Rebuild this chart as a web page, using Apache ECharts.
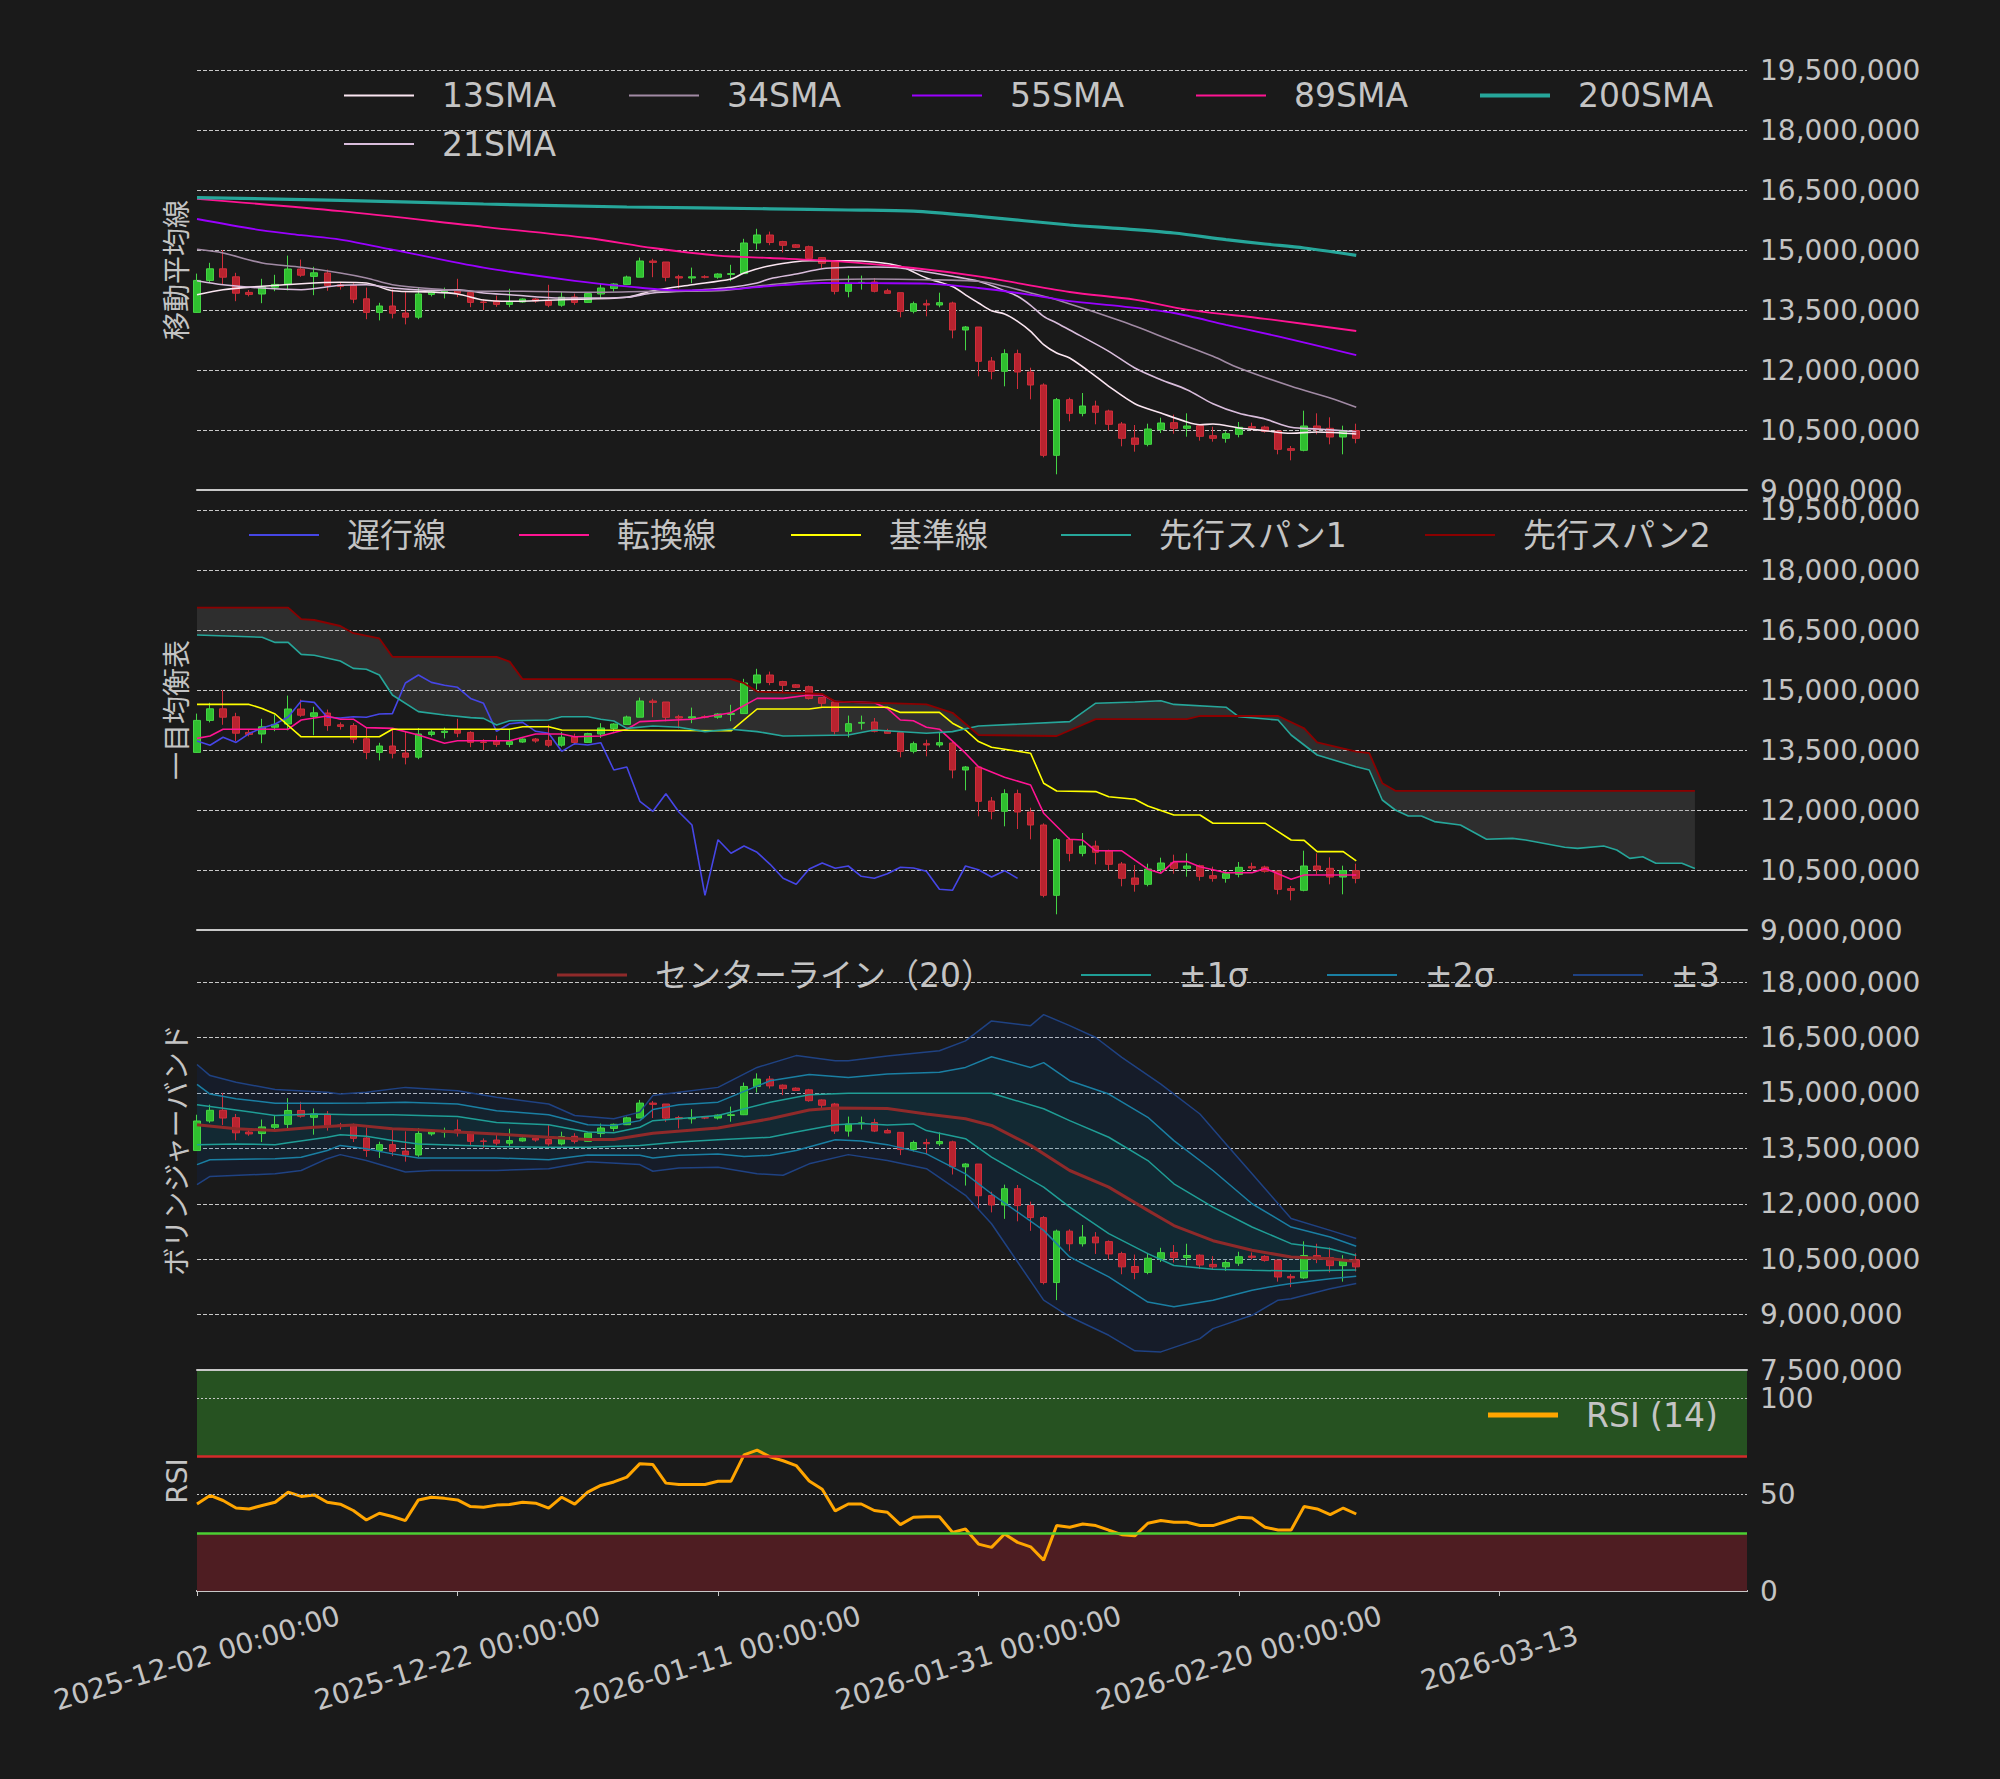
<!DOCTYPE html>
<html><head><meta charset="utf-8">
<script src="https://cdn.jsdelivr.net/npm/echarts@6/dist/echarts.min.js"></script>
<style>html,body{margin:0;padding:0;background:#1a1a1a;} #c{width:2000px;height:1779px;}</style>
</head><body><div id="c"></div>
<script>
// ---------- data (prices in millions of JPY) ----------
const X_CATEGORIES = Array.from({length: 120}, (_, i) => String(i));
const X_TICK_LABELS = ['2025-12-02 00:00:00','2025-12-22 00:00:00','2026-01-11 00:00:00','2026-01-31 00:00:00','2026-02-20 00:00:00','2026-03-13'];

const OPEN = [13.44,14.24,14.53,14.33,13.94,13.90,14.07,14.15,14.525,14.34, 14.425,14.13,14.11,13.78,13.44,13.60,13.425,13.32,13.89,13.94, 14.00,13.94,13.70,13.725,13.64,13.70,13.775,13.74,13.62,13.825, 13.69,13.90,14.04,14.14,14.32,14.725,14.70,14.333,14.30,14.33, 14.32,14.39,14.41,15.175,15.375,15.21,15.13,15.083,14.81,14.70, 13.967,14.17,14.20,13.98,13.933,13.467,13.658,13.625,13.675,13.00, 13.075,12.225,11.967,12.408,11.95,11.625,9.867,11.258,10.917,11.10, 10.975,10.65,10.30,10.142,10.508,10.683,10.542,10.608,10.358,10.292, 10.392,10.583,10.575,10.475,10.033,9.992,10.60,10.542,10.325,10.483];
const CLOSE = [14.24,14.53,14.32,13.92,13.89,14.08,14.14,14.525,14.37,14.43, 14.11,14.09,13.77,13.44,13.60,13.42,13.32,13.90,13.95,13.97, 13.92,13.69,13.69,13.64,13.71,13.775,13.725,13.62,13.82,13.69, 13.91,14.05,14.15,14.325,14.725,14.69,14.317,14.30,14.33,14.32, 14.40,14.41,15.175,15.375,15.19,15.117,15.067,14.79,14.667,13.967, 14.158,14.19,13.967,13.917,13.467,13.658,13.625,13.683,13.00,13.075, 12.217,11.967,12.408,11.95,11.625,9.867,11.258,10.917,11.10,10.942, 10.642,10.292,10.142,10.525,10.675,10.542,10.60,10.342,10.292,10.408, 10.567,10.55,10.467,10.017,9.992,10.60,10.508,10.325,10.483,10.292];
const LOW = [13.43,14.19,14.13,13.72,13.84,13.67,13.97,13.99,14.33,13.87, 13.98,14.01,13.67,13.27,13.24,13.29,13.14,13.27,13.84,13.79, 13.82,13.57,13.50,13.58,13.57,13.68,13.68,13.57,13.58,13.63, 13.68,13.80,13.96,14.13,14.32,14.32,14.217,14.04,14.17,14.29, 14.28,14.22,14.40,15.01,15.12,14.94,15.05,14.76,14.55,13.89, 13.817,14.01,13.94,13.91,13.317,13.417,13.342,13.567,12.792,12.492, 11.842,11.767,11.592,11.525,11.267,9.817,9.392,10.717,10.842,10.642, 10.492,10.092,9.958,10.092,10.425,10.408,10.333,10.233,10.208,10.183, 10.317,10.492,10.433,9.892,9.742,9.967,10.392,10.142,9.892,10.167];
const HIGH = [14.41,14.68,15.00,14.43,14.00,14.28,14.38,14.86,14.76,14.58, 14.51,14.19,14.17,14.06,13.68,14.02,13.96,14.05,14.00,14.06, 14.28,13.97,13.77,13.86,14.03,13.79,13.80,14.13,13.95,13.91, 13.93,14.17,14.17,14.36,14.81,14.78,14.70,14.38,14.56,14.37, 14.42,14.63,15.28,15.53,15.46,15.23,15.15,15.11,14.825,14.73, 14.36,14.36,14.30,14.03,13.933,13.71,13.758,13.933,13.708,13.10, 13.075,12.325,12.517,12.508,12.058,11.667,11.30,11.308,11.425,11.233, 11.008,10.70,10.625,10.658,10.808,10.883,10.917,10.633,10.583,10.467, 10.70,10.683,10.608,10.475,10.10,10.983,10.917,10.817,10.608,10.658];

// moving averages: [day index, value]
const SMA13 = [[0,13.883],[2,14.008],[5,14.092],[8,14.158],[11,14.192],[13,14.175],[15,13.983],[18,13.95],[20,13.9],[22,13.75],[24,13.717],[28,13.758],[33,13.817],[35,13.983],[38,14.133],[41,14.275],[42,14.425],[44,14.608],[47,14.733],[50,14.733],[52,14.7],[54,14.592],[56,14.3],[58,14.09],[59,13.88],[60,13.675],[61,13.483],[62,13.4],[63,13.217],[64,12.967],[65,12.633],[66,12.425],[67,12.3],[69,11.842],[70,11.592],[72,11.158],[74,10.925],[76,10.7],[77,10.633],[78,10.65],[80,10.55],[82,10.483],[84,10.417],[86,10.45],[89,10.4]];
const SMA21 = [[0,14.233],[2,14.133],[5,14.05],[8,14.008],[11,14.117],[13,14.133],[15,14.05],[18,13.992],[20,14.008],[22,13.925],[24,13.883],[28,13.8],[31,13.8],[33,13.817],[35,13.925],[38,13.983],[41,14.067],[43,14.175],[44,14.283],[46,14.4],[48,14.533],[50,14.567],[52,14.575],[54,14.55],[56,14.45],[58,14.342],[60,14.217],[62,13.983],[63,13.842],[64,13.617],[65,13.342],[66,13.175],[67,13.0],[70,12.467],[72,12.05],[74,11.758],[76,11.508],[78,11.158],[80,10.917],[82,10.775],[84,10.567],[86,10.525],[89,10.458]];
const SMA34 = [[0,15.017],[2,14.925],[5,14.675],[8,14.567],[11,14.425],[13,14.3],[15,14.133],[18,14.033],[22,13.967],[25,13.967],[30,13.942],[35,13.967],[40,13.983],[44,14.133],[48,14.25],[52,14.275],[56,14.258],[60,14.217],[62,14.092],[64,13.925],[66,13.758],[71,13.217],[75,12.717],[78,12.342],[80,12.05],[84,11.592],[87,11.3],[89,11.067]];
const SMA55 = [[0,15.775],[5,15.49],[8,15.37],[11,15.26],[15,15.01],[22,14.56],[29,14.23],[33,14.09],[37,13.99],[41,14.02],[44,14.1],[48,14.175],[52,14.17],[56,14.16],[60,14.05],[64,13.88],[67,13.72],[71,13.59],[75,13.425],[79,13.13],[83,12.84],[89,12.37]];
const SMA89 = [[0,16.28],[11,15.97],[22,15.58],[30,15.3],[35,15.05],[40,14.86],[44,14.8],[49,14.72],[55,14.55],[60,14.34],[67,13.95],[72,13.76],[76,13.51],[82,13.28],[89,12.975]];
const SMA200 = [[0,16.31],[11,16.24],[22,16.15],[33,16.075],[44,16.03],[50,16.0],[55,15.97],[60,15.84],[67,15.625],[71,15.533],[75,15.425],[79,15.258],[82,15.15],[85,15.05],[89,14.867]];

// ichimoku
const CHIKOU = [13.725,13.62,13.82,13.69,13.91,14.05,14.15,14.325,14.725,14.69,14.317,14.30,14.33,14.32,14.40,14.41,15.175,15.375,15.19,15.117,15.067,14.79,14.667,13.967,14.158,14.19,13.967,13.917,13.467,13.658,13.625,13.683,13.00,13.075,12.217,11.967,12.408,11.95,11.625,9.867,11.258,10.917,11.10,10.942,10.642,10.292,10.142,10.525,10.675,10.542,10.60,10.342,10.292,10.408,10.567,10.55,10.467,10.017,9.992,10.60,10.508,10.325,10.483,10.292];
const TENKAN = [[0,13.79],[1,13.85],[2,14.02],[7,14.02],[8,14.25],[10,14.35],[11,14.27],[12,14.27],[13,14.06],[15,14.04],[17,13.875],[19,13.67],[20,13.73],[24,13.73],[26,13.9],[28,13.9],[29,13.83],[31,13.85],[33,14.02],[34,14.21],[38,14.27],[41,14.43],[43,14.79],[45,14.79],[47,14.875],[48,14.875],[49,14.71],[51,14.69],[52,14.68],[53,14.54],[54,14.25],[55,14.23],[56,14.07],[57,14.02],[59,13.42],[60,13.08],[62,12.82],[64,12.625],[65,11.92],[67,11.27],[68,11.25],[69,10.98],[71,10.98],[73,10.52],[74,10.42],[75,10.71],[76,10.71],[77,10.58],[79,10.43],[81,10.43],[82,10.54],[84,10.27],[85,10.375],[89,10.375]];
const KIJUN = [[0,14.64],[4,14.64],[5,14.54],[6,14.4],[8,13.83],[14,13.83],[15,14.02],[24,14.02],[25,14.08],[27,14.08],[28,14.0],[41,13.98],[43,14.525],[47,14.525],[48,14.57],[53,14.57],[54,14.44],[57,14.44],[58,14.17],[59,14.0],[60,13.71],[61,13.57],[64,13.42],[65,12.67],[66,12.475],[69,12.46],[70,12.33],[72,12.27],[73,12.1],[75,11.875],[77,11.875],[78,11.67],[82,11.67],[84,11.25],[85,11.24],[86,10.96],[88,10.96],[89,10.73]];
const SPAN1 = [[0,16.375],[5,16.32],[6,16.19],[7,16.19],[8,15.89],[9,15.87],[11,15.725],[12,15.54],[13,15.52],[14,15.375],[15,14.875],[17,14.46],[19,14.375],[21,14.31],[22,14.29],[23,14.125],[24,14.23],[27,14.25],[28,14.33],[30,14.33],[31,14.27],[32,14.225],[33,14.04],[35,14.1],[37,14.07],[39,13.96],[41,14.02],[43,13.96],[45,13.85],[50,13.875],[52,14.0],[56,13.92],[58,13.96],[60,14.1],[67,14.21],[69,14.67],[72,14.7],[74,14.73],[75,14.64],[79,14.57],[80,14.33],[83,14.25],[84,13.875],[86,13.375],[89,13.08],[90,13.0],[91,12.25],[92,12.0],[93,11.85],[94,11.85],[95,11.71],[97,11.625],[99,11.27],[101,11.29],[102,11.25],[105,11.07],[106,11.04],[108,11.1],[109,11.0],[110,10.79],[111,10.83],[112,10.67],[114,10.67],[115,10.54]];
const SPAN2 = [[0,17.06],[7,17.06],[8,16.77],[9,16.75],[11,16.6],[12,16.42],[14,16.29],[15,15.83],[23,15.83],[24,15.71],[25,15.27],[41,15.27],[42,15.17],[43,14.96],[48,14.9],[49,14.71],[53,14.67],[56,14.64],[58,14.43],[60,13.875],[66,13.85],[69,14.27],[76,14.27],[77,14.35],[83,14.35],[85,14.04],[86,13.69],[89,13.46],[90,13.42],[91,12.67],[92,12.48],[115,12.48]];

// bollinger
const BB_MID = [[0,14.14],[3,14.03],[6,13.98],[9,14.07],[12,14.135],[15,14.03],[17,14.0],[20,13.94],[23,13.89],[27,13.8],[30,13.74],[32,13.74],[35,13.91],[40,14.05],[44,14.3],[47,14.54],[49,14.59],[53,14.58],[56,14.43],[59,14.3],[61,14.12],[64,13.58],[67,12.9],[70,12.45],[73,11.82],[75,11.41],[78,11.0],[81,10.74],[84,10.56],[87,10.51],[89,10.44]];
const BB_UP1 = [[0,14.68],[3,14.54],[6,14.39],[9,14.43],[12,14.41],[15,14.41],[20,14.36],[23,14.2],[27,14.14],[30,13.94],[32,13.92],[34,14.07],[35,14.25],[40,14.39],[44,14.75],[47,14.95],[50,14.99],[61,14.99],[65,14.57],[67,14.25],[70,13.8],[73,13.17],[75,12.54],[78,11.91],[81,11.37],[84,10.92],[87,10.78],[89,10.6]];
const BB_LO1 = [[0,13.6],[3,13.62],[6,13.6],[7,13.65],[10,13.8],[11,13.87],[13,13.83],[15,13.71],[17,13.62],[23,13.55],[27,13.53],[30,13.53],[34,13.58],[37,13.67],[40,13.73],[44,13.8],[46,13.94],[49,14.14],[51,14.17],[53,14.13],[55,14.16],[56,13.98],[59,13.76],[61,13.26],[65,12.45],[67,11.91],[70,11.19],[73,10.65],[75,10.33],[78,10.23],[81,10.2],[84,10.18],[89,10.21]];
const BB_UP2 = [[0,15.23],[1,14.97],[3,14.84],[6,14.72],[10,14.72],[13,14.73],[16,14.75],[20,14.70],[23,14.52],[27,14.41],[30,14.14],[32,14.12],[34,14.25],[35,14.55],[37,14.68],[40,14.75],[44,15.33],[47,15.50],[50,15.42],[53,15.51],[57,15.56],[59,15.69],[61,15.98],[64,15.69],[65,15.82],[67,15.33],[70,14.97],[73,14.34],[75,13.71],[78,12.9],[81,12.0],[84,11.37],[87,11.1],[89,10.85]];
const BB_LO2 = [[0,13.06],[1,13.19],[6,13.22],[8,13.26],[10,13.44],[11,13.58],[13,13.49],[15,13.35],[17,13.24],[23,13.24],[27,13.19],[30,13.32],[34,13.31],[35,13.24],[37,13.31],[40,13.35],[42,13.28],[44,13.31],[46,13.44],[49,13.73],[51,13.7],[53,13.6],[56,13.35],[59,12.81],[61,12.27],[65,11.28],[67,10.56],[70,10.02],[73,9.34],[75,9.21],[78,9.39],[81,9.66],[83,9.79],[84,9.84],[87,9.97],[89,10.04]];
const BB_UP3 = [[0,15.77],[1,15.47],[3,15.29],[6,15.09],[10,15.02],[11,14.97],[13,15.02],[16,15.15],[20,15.06],[23,14.88],[27,14.70],[29,14.39],[32,14.30],[34,14.48],[35,14.93],[37,15.02],[40,15.15],[43,15.69],[46,16.01],[49,15.87],[50,15.87],[53,16.0],[57,16.14],[59,16.41],[61,16.95],[64,16.82],[65,17.12],[67,16.82],[69,16.5],[71,15.96],[74,15.24],[77,14.43],[79,13.62],[81,12.81],[84,11.6],[87,11.28],[89,11.06]];
const BB_LO3 = [[0,12.52],[1,12.74],[6,12.81],[8,12.90],[10,13.22],[11,13.33],[13,13.17],[16,12.86],[18,12.90],[23,12.90],[27,12.95],[30,13.14],[34,13.06],[35,12.88],[37,12.97],[40,12.99],[43,12.81],[45,12.77],[47,13.08],[50,13.33],[53,13.17],[56,12.95],[59,12.23],[61,11.46],[65,9.39],[67,8.94],[70,8.44],[72,8.02],[74,7.99],[77,8.35],[78,8.62],[81,8.98],[83,9.39],[84,9.43],[87,9.7],[89,9.84]];

// RSI (14)
const RSI14 = [45.1,49.5,46.9,43,42.5,44.3,46,51.2,49,49.8, 46,45,41.7,36.8,40.3,38.6,36.5,47.2,48.6,48, 47.2,43.75,43.4,44.5,44.8,46,45.5,42.9,48.6,45, 51.2,54.7,56.5,59,66,65.5,55.9,55.2,55.2,55.2, 56.9,56.9,70.5,73,69.5,67.5,65,57,52.7,41.5, 45.1,45.1,41.7,40.8,34.4,38.2,38.5,38.5,30.4,32.1, 24.3,22.6,29.5,25.2,22.9,16,33.9,33,34.7,33.9, 31.5,29.2,28.6,35.1,36.5,35.6,35.6,33.9,33.9,36, 38.2,37.8,33,31.6,31.6,43.75,42.5,39.6,43,39.9];

// ---------- styling ----------
const FONT = "'DejaVu Sans', 'Noto Sans CJK JP', sans-serif";
const TXT = '#c4c4c4';
const GRID_LEFT = 197, GRID_RIGHT = 253;
const PANELS = [
  {top: 50, height: 440, min: 9, max: 20.0, interval: 1.5, name: '移動平均線'},
  {top: 490, height: 440, min: 9, max: 20.0, interval: 1.5, name: '一目均衡表'},
  {top: 930, height: 440, min: 7.5, max: 19.41, interval: 1.5, name: 'ボリンジャーバンド'},
  {top: 1371, height: 220, min: 0, max: 114, interval: 50, name: 'RSI'}
];

const chart = echarts.init(document.getElementById('c'), null, {renderer: 'svg'});

const fmtYen = v => Math.round(v * 1e6).toLocaleString('en-US');

const grids = PANELS.map(p => ({left: GRID_LEFT, right: GRID_RIGHT, top: p.top, height: p.height}));

const xAxes = PANELS.map((p, gi) => {
  const last = gi === 3;
  return {
    type: 'category', gridIndex: gi, data: X_CATEGORIES, boundaryGap: false,
    axisLine: {show: true, lineStyle: {color: '#c8c8c8', width: 2}},
    axisTick: {show: last, interval: 19, length: 5, lineStyle: {color: '#c8c8c8', width: 1}},
    axisLabel: {show: last, interval: 19, rotate: 17, align: 'center', verticalAlign: 'middle', margin: 67,
      color: TXT, fontSize: 28, fontFamily: FONT,
      formatter: (v, idx) => (idx % 20 === 0 && X_TICK_LABELS[idx / 20]) ? X_TICK_LABELS[idx / 20] : ''},
    splitLine: {show: false}
  };
});
xAxes.push({type: 'category', gridIndex: 3, data: X_CATEGORIES, boundaryGap: false, position: 'top',
  axisLine: {show: true, lineStyle: {color: '#c8c8c8', width: 2}}, axisTick: {show: false}, axisLabel: {show: false}, splitLine: {show: false}});

const yAxes = [];
PANELS.forEach((p, gi) => {
  const isRsi = gi === 3;
  yAxes.push({
    type: 'value', gridIndex: gi, position: 'right', min: p.min, max: p.max, interval: p.interval,
    axisLine: {show: false}, axisTick: {show: false},
    axisLabel: {color: TXT, fontSize: 28, fontFamily: FONT, margin: 13, showMaxLabel: false, showMinLabel: true,
      formatter: isRsi ? (v => String(v)) : fmtYen},
    splitLine: {show: !isRsi, showMinLine: false, showMaxLine: false, lineStyle: {color: '#c8c8c8', width: 1, type: [4, 2]}}
  });
  yAxes.push({
    type: 'value', gridIndex: gi, position: 'left', min: p.min, max: p.max,
    name: p.name, nameLocation: 'middle', nameGap: 6, nameRotate: 90,
    nameTextStyle: {color: TXT, fontSize: 28, fontFamily: FONT},
    axisLine: {show: false}, axisTick: {show: false}, axisLabel: {show: false}, splitLine: {show: false}
  });
});

function line(name, data, color, width, gi, extra) {
  return Object.assign({name, type: 'line', xAxisIndex: gi, yAxisIndex: gi * 2, data, symbol: 'none', showSymbol: false,
    lineStyle: {color, width}, itemStyle: {color}, silent: true, z: 4, animation: false}, extra || {});
}
function fillBetween(a, b, color, gi, z) {
  return {type: 'custom', xAxisIndex: gi, yAxisIndex: gi * 2, silent: true, z: z || 1, animation: false,
    data: [[a[0][0], a[0][1]]],
    renderItem: (params, api) => {
      const pts = a.map(p => api.coord(p)).concat(b.slice().reverse().map(p => api.coord(p)));
      return {type: 'polygon', shape: {points: pts}, style: {fill: color}};
    }};
}
function candles(gi) {
  return {name: 'ohlc' + gi, type: 'candlestick', xAxisIndex: gi, yAxisIndex: gi * 2,
    data: OPEN.map((o, i) => [o, CLOSE[i], LOW[i], HIGH[i]]), barWidth: 7, silent: true, z: 3, animation: false,
    itemStyle: {color: '#2fbf2f', color0: '#b8232f', borderColor: '#45d545', borderColor0: '#cf2e3a', borderWidth: 1}};
}

const C = {
  s13: '#fbe6f1', s21: '#d9bddc', s34: '#a18aa4', s55: '#9a00ff', s89: '#ff1493', s200: '#26a69a',
  chikou: '#4646e6', tenkan: '#ff1493', kijun: '#ffff00', span1: '#26a69a', span2: '#8b0000',
  mid: '#8f2a2a', b1: '#1f9e96', b2: '#1a7fa3', b3: '#1f4283', rsi: '#ffa500'
};
const SM = {smooth: 0.3};

const series = [
  candles(0),
  line('13SMA', SMA13, C.s13, 1.6, 0, SM),
  line('21SMA', SMA21, C.s21, 1.6, 0, SM),
  line('34SMA', SMA34, C.s34, 1.6, 0, SM),
  line('55SMA', SMA55, C.s55, 1.8, 0, SM),
  line('89SMA', SMA89, C.s89, 1.8, 0, SM),
  line('200SMA', SMA200, C.s200, 3.2, 0, SM),

  fillBetween(SPAN2, SPAN1, 'rgba(128,128,128,0.2)', 1),
  candles(1),
  line('遅行線', CHIKOU, C.chikou, 1.6, 1),
  line('転換線', TENKAN, C.tenkan, 1.6, 1),
  line('基準線', KIJUN, C.kijun, 1.6, 1),
  line('先行スパン1', SPAN1, C.span1, 1.6, 1),
  line('先行スパン2', SPAN2, C.span2, 1.8, 1),

  fillBetween(BB_UP3, BB_LO3, 'rgba(0,50,150,0.13)', 2, 1),
  fillBetween(BB_UP2, BB_LO2, 'rgba(0,130,140,0.06)', 2, 1),
  fillBetween(BB_UP1, BB_LO1, 'rgba(0,160,140,0.06)', 2, 1),
  candles(2),
  line('センターライン（20）', BB_MID, C.mid, 3, 2),
  line('±1σ', BB_UP1, C.b1, 1.5, 2),
  line('±1σ ', BB_LO1, C.b1, 1.5, 2),
  line('±2σ', BB_UP2, C.b2, 1.5, 2),
  line('±2σ ', BB_LO2, C.b2, 1.5, 2),
  line('±3', BB_UP3, C.b3, 1.5, 2),
  line('±3 ', BB_LO3, C.b3, 1.5, 2),

  line('RSI (14)', RSI14, C.rsi, 3, 3, {
    markArea: {silent: true, data: [
      [{yAxis: 70, itemStyle: {color: '#265221'}}, {yAxis: 114}],
      [{yAxis: 0, itemStyle: {color: '#4e1d22'}}, {yAxis: 30}]
    ]},
    markLine: {silent: true, symbol: 'none', label: {show: false}, animation: false, data: [
      {yAxis: 100, lineStyle: {color: '#c8c8c8', width: 1, type: [2, 2]}},
      {yAxis: 50, lineStyle: {color: '#c8c8c8', width: 1, type: [2, 2]}},
      {yAxis: 70, lineStyle: {color: '#d42a2a', width: 2.5, type: 'solid'}},
      {yAxis: 30, lineStyle: {color: '#4ccf33', width: 2.5, type: 'solid'}}
    ]}
  })
];

const LEG_FONT = 33;
function leg(name, left, cy, h) {
  return {data: [name], left, top: cy - LEG_FONT / 2, orient: 'horizontal', padding: 0, selectedMode: false,
    icon: 'rect', itemWidth: 70, itemHeight: h || 2,
    textStyle: {color: TXT, fontSize: LEG_FONT, fontFamily: FONT, lineHeight: LEG_FONT, padding: [0, 0, 0, 23]}};
}
const legends = [
  leg('13SMA', 344, 95.5), leg('34SMA', 629, 95.5), leg('55SMA', 912, 95.5), leg('89SMA', 1196, 95.5), leg('200SMA', 1480, 95.5, 4),
  leg('21SMA', 344, 144),
  leg('遅行線', 249, 535), leg('転換線', 519, 535), leg('基準線', 791, 535), leg('先行スパン1', 1061, 535), leg('先行スパン2', 1425, 535),
  leg('センターライン（20）', 557, 975, 3), leg('±1σ', 1081, 975), leg('±2σ', 1327, 975), leg('±3', 1573, 975),
  leg('RSI (14)', 1488, 1415, 5)
];

chart.setOption({
  backgroundColor: '#1a1a1a',
  animation: false,
  grid: grids,
  xAxis: xAxes,
  yAxis: yAxes,
  legend: legends,
  series
});
</script></body></html>
